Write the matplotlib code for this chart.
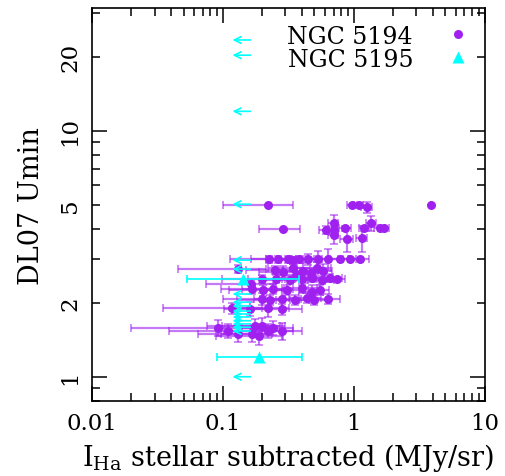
import numpy as np
import matplotlib
matplotlib.use("Agg")
import matplotlib.pyplot as plt
from matplotlib.ticker import FixedLocator, FuncFormatter, NullFormatter
from matplotlib.lines import Line2D

plt.rcParams['font.family'] = 'DejaVu Serif'
plt.rcParams['mathtext.fontset'] = 'dejavuserif'

# NGC 5194 : I_Ha (MJy/sr), Umin, errors
m51a_x = [0.22, 0.97, 1.09, 1.25, 3.9,
          0.29, 0.61, 0.70, 0.70, 0.70, 0.86, 0.89, 1.15, 1.20, 1.35, 1.58, 1.69,
          0.224, 0.263, 0.313, 0.34, 0.38, 0.446, 0.531, 0.634, 0.782, 0.931, 1.11, 0.13,
          0.25, 0.29, 0.34, 0.41, 0.47, 0.52, 0.58, 0.36,
          0.164, 0.199, 0.254, 0.325, 0.40, 0.48, 0.57, 0.66, 0.74,
          0.166, 0.202, 0.24, 0.31, 0.40, 0.48, 0.55,
          0.20, 0.228, 0.282, 0.354, 0.44, 0.50, 0.634,
          0.117, 0.161, 0.221, 0.282,
          0.092, 0.109, 0.130, 0.166, 0.175, 0.199, 0.188, 0.221, 0.282, 0.24]
m51a_y = [5.0, 5.0, 5.0, 4.89, 5.0,
          3.98, 3.96, 4.20, 3.96, 3.78, 4.01, 3.63, 3.66, 4.01, 4.20, 4.01, 4.01,
          3.01, 3.01, 3.01, 2.98, 3.01, 3.01, 3.01, 3.01, 3.01, 3.01, 3.01, 2.74,
          2.72, 2.66, 2.78, 2.70, 2.64, 2.78, 2.68, 2.60,
          2.38, 2.50, 2.50, 2.48, 2.50, 2.52, 2.48, 2.52, 2.50,
          2.27, 2.25, 2.28, 2.25, 2.30, 2.22, 2.25,
          2.07, 2.05, 2.07, 2.05, 2.10, 2.05, 2.07,
          1.90, 1.89, 1.90, 1.88,
          1.58, 1.535, 1.49, 1.49, 1.61, 1.61, 1.47, 1.535, 1.535, 1.58]
m51a_xerr = [0.12, 0.09, 0.08, 0.12, 0.0,
             0.10, 0.07, 0.06, 0.05, 0.06, 0.09, 0.10, 0.12, 0.10, 0.12, 0.15, 0.15,
             0.11, 0.10, 0.10, 0.12, 0.12, 0.12, 0.10, 0.12, 0.12, 0.10, 0.20, 0.085,
             0.10, 0.10, 0.12, 0.12, 0.12, 0.15, 0.10, 0.10,
             0.09, 0.10, 0.10, 0.12, 0.12, 0.12, 0.13, 0.15, 0.12,
             0.07, 0.09, 0.10, 0.10, 0.12, 0.10, 0.10,
             0.10, 0.10, 0.11, 0.10, 0.12, 0.12, 0.15,
             0.082, 0.06, 0.10, 0.12,
             0.072, 0.07, 0.065, 0.07, 0.10, 0.10, 0.10, 0.12, 0.12, 0.10]
m51a_yerr = [0.0, 0.0, 0.0, 0.25, 0.0,
             0.0, 0.15, 0.35, 0.20, 0.30, 0.10, 0.40, 0.45, 0.10, 0.30, 0.0, 0.0,
             0.10, 0.10, 0.10, 0.10, 0.10, 0.15, 0.25, 0.30, 0.0, 0.0, 0.0, 0.10,
             0.10, 0.15, 0.10, 0.20, 0.10, 0.15, 0.20, 0.10,
             0.10, 0.10, 0.10, 0.10, 0.15, 0.10, 0.10, 0.10, 0.0,
             0.10, 0.12, 0.10, 0.10, 0.10, 0.15, 0.10,
             0.12, 0.10, 0.20, 0.10, 0.10, 0.10, 0.10,
             0.10, 0.12, 0.15, 0.10,
             0.12, 0.10, 0.10, 0.10, 0.10, 0.12, 0.12, 0.10, 0.12, 0.10]

# NGC 5195 detections
m51b_x = [0.142, 0.188]
m51b_y = [2.50, 1.20]
m51b_xerr_lo = [0.089, 0.098]
m51b_xerr_hi = [0.238, 0.212]

# NGC 5195 upper limits on I_Ha
m51b_lim_x = [0.162] * 17
m51b_lim_y = [23.4, 20.3, 12.0, 5.03, 2.98, 2.74, 2.17, 2.01, 1.94, 1.85,
              1.80, 1.75, 1.69, 1.64, 1.59, 1.535, 1.0]

purple = '#A020F0'
cyan = '#00FFFF'

fig = plt.figure(figsize=(5.06, 4.77), dpi=100)
ax = fig.add_axes([0.182, 0.157, 0.776, 0.824])
ax.set_xscale('log')
ax.set_yscale('log')

ax.errorbar(m51a_x, m51a_y, xerr=m51a_xerr, yerr=m51a_yerr, fmt='none',
            ecolor=purple, alpha=0.6, elinewidth=1.6, capsize=3, capthick=1.2)
ax.plot(m51a_x, m51a_y, 'o', color=purple, ms=6.5, mec='none')

ax.errorbar(m51b_x, m51b_y, xerr=[m51b_xerr_lo, m51b_xerr_hi], fmt='none',
            ecolor=cyan, elinewidth=1.2, capsize=3, capthick=1.2)
ax.plot(m51b_x, m51b_y, '^', color=cyan, ms=8, mec='none')

for lx, ly in zip(m51b_lim_x, m51b_lim_y):
    ax.annotate('', xy=(lx * 0.73, ly), xytext=(lx, ly),
                arrowprops=dict(arrowstyle='->', color=cyan, lw=1.2,
                                mutation_scale=12, shrinkA=0, shrinkB=0))

ax.set_xlim(0.01, 10)
ax.set_ylim(10 ** -0.099, 10 ** 1.499)

ax.xaxis.set_major_locator(FixedLocator([0.01, 0.1, 1, 10]))
ax.xaxis.set_major_formatter(FuncFormatter(lambda v, p: f'{v:g}'))
ax.xaxis.set_minor_locator(FixedLocator([m * 10.0 ** e for e in (-2, -1, 0) for m in range(2, 10)]))
ax.xaxis.set_minor_formatter(NullFormatter())

ax.yaxis.set_major_locator(FixedLocator([1, 10]))
ax.yaxis.set_major_formatter(FuncFormatter(lambda v, p: f'{v:g}'))
ax.yaxis.set_minor_locator(FixedLocator([m * 10.0 ** e for e in (-1, 0, 1) for m in range(2, 10)]))
ax.yaxis.set_minor_formatter(FuncFormatter(lambda v, p: f'{v:g}' if round(v) in (2, 5, 20) else ''))

ax.tick_params(which='both', direction='in', top=True, right=True, labelsize=16.5, width=1.1)
ax.tick_params(which='major', length=11, pad=8)
ax.tick_params(which='minor', length=6, pad=8)
ax.tick_params(axis='y', which='both', labelrotation=90)
for lbl in ax.get_yticklabels(which='both'):
    lbl.set_va('center')
for s in ax.spines.values():
    s.set_linewidth(1.2)

ax.set_xlabel(r'I$_{\mathrm{Ha}}$ stellar subtracted (MJy/sr)', fontsize=19.5, labelpad=5)
ax.set_ylabel('DL07 Umin', fontsize=19.5, labelpad=10)

handles = [Line2D([], [], ls='none', marker='o', color=purple, ms=6.5, mec='none'),
           Line2D([], [], ls='none', marker='^', color=cyan, ms=8, mec='none')]
ax.legend(handles, ['NGC 5194', 'NGC 5195'], loc='upper right', frameon=False,
          markerfirst=False, fontsize=17, handlelength=1.2, handletextpad=1.3,
          labelspacing=0.0, borderaxespad=0.3, bbox_to_anchor=(1.01, 1.0))

fig.savefig('out.png', dpi=100)
